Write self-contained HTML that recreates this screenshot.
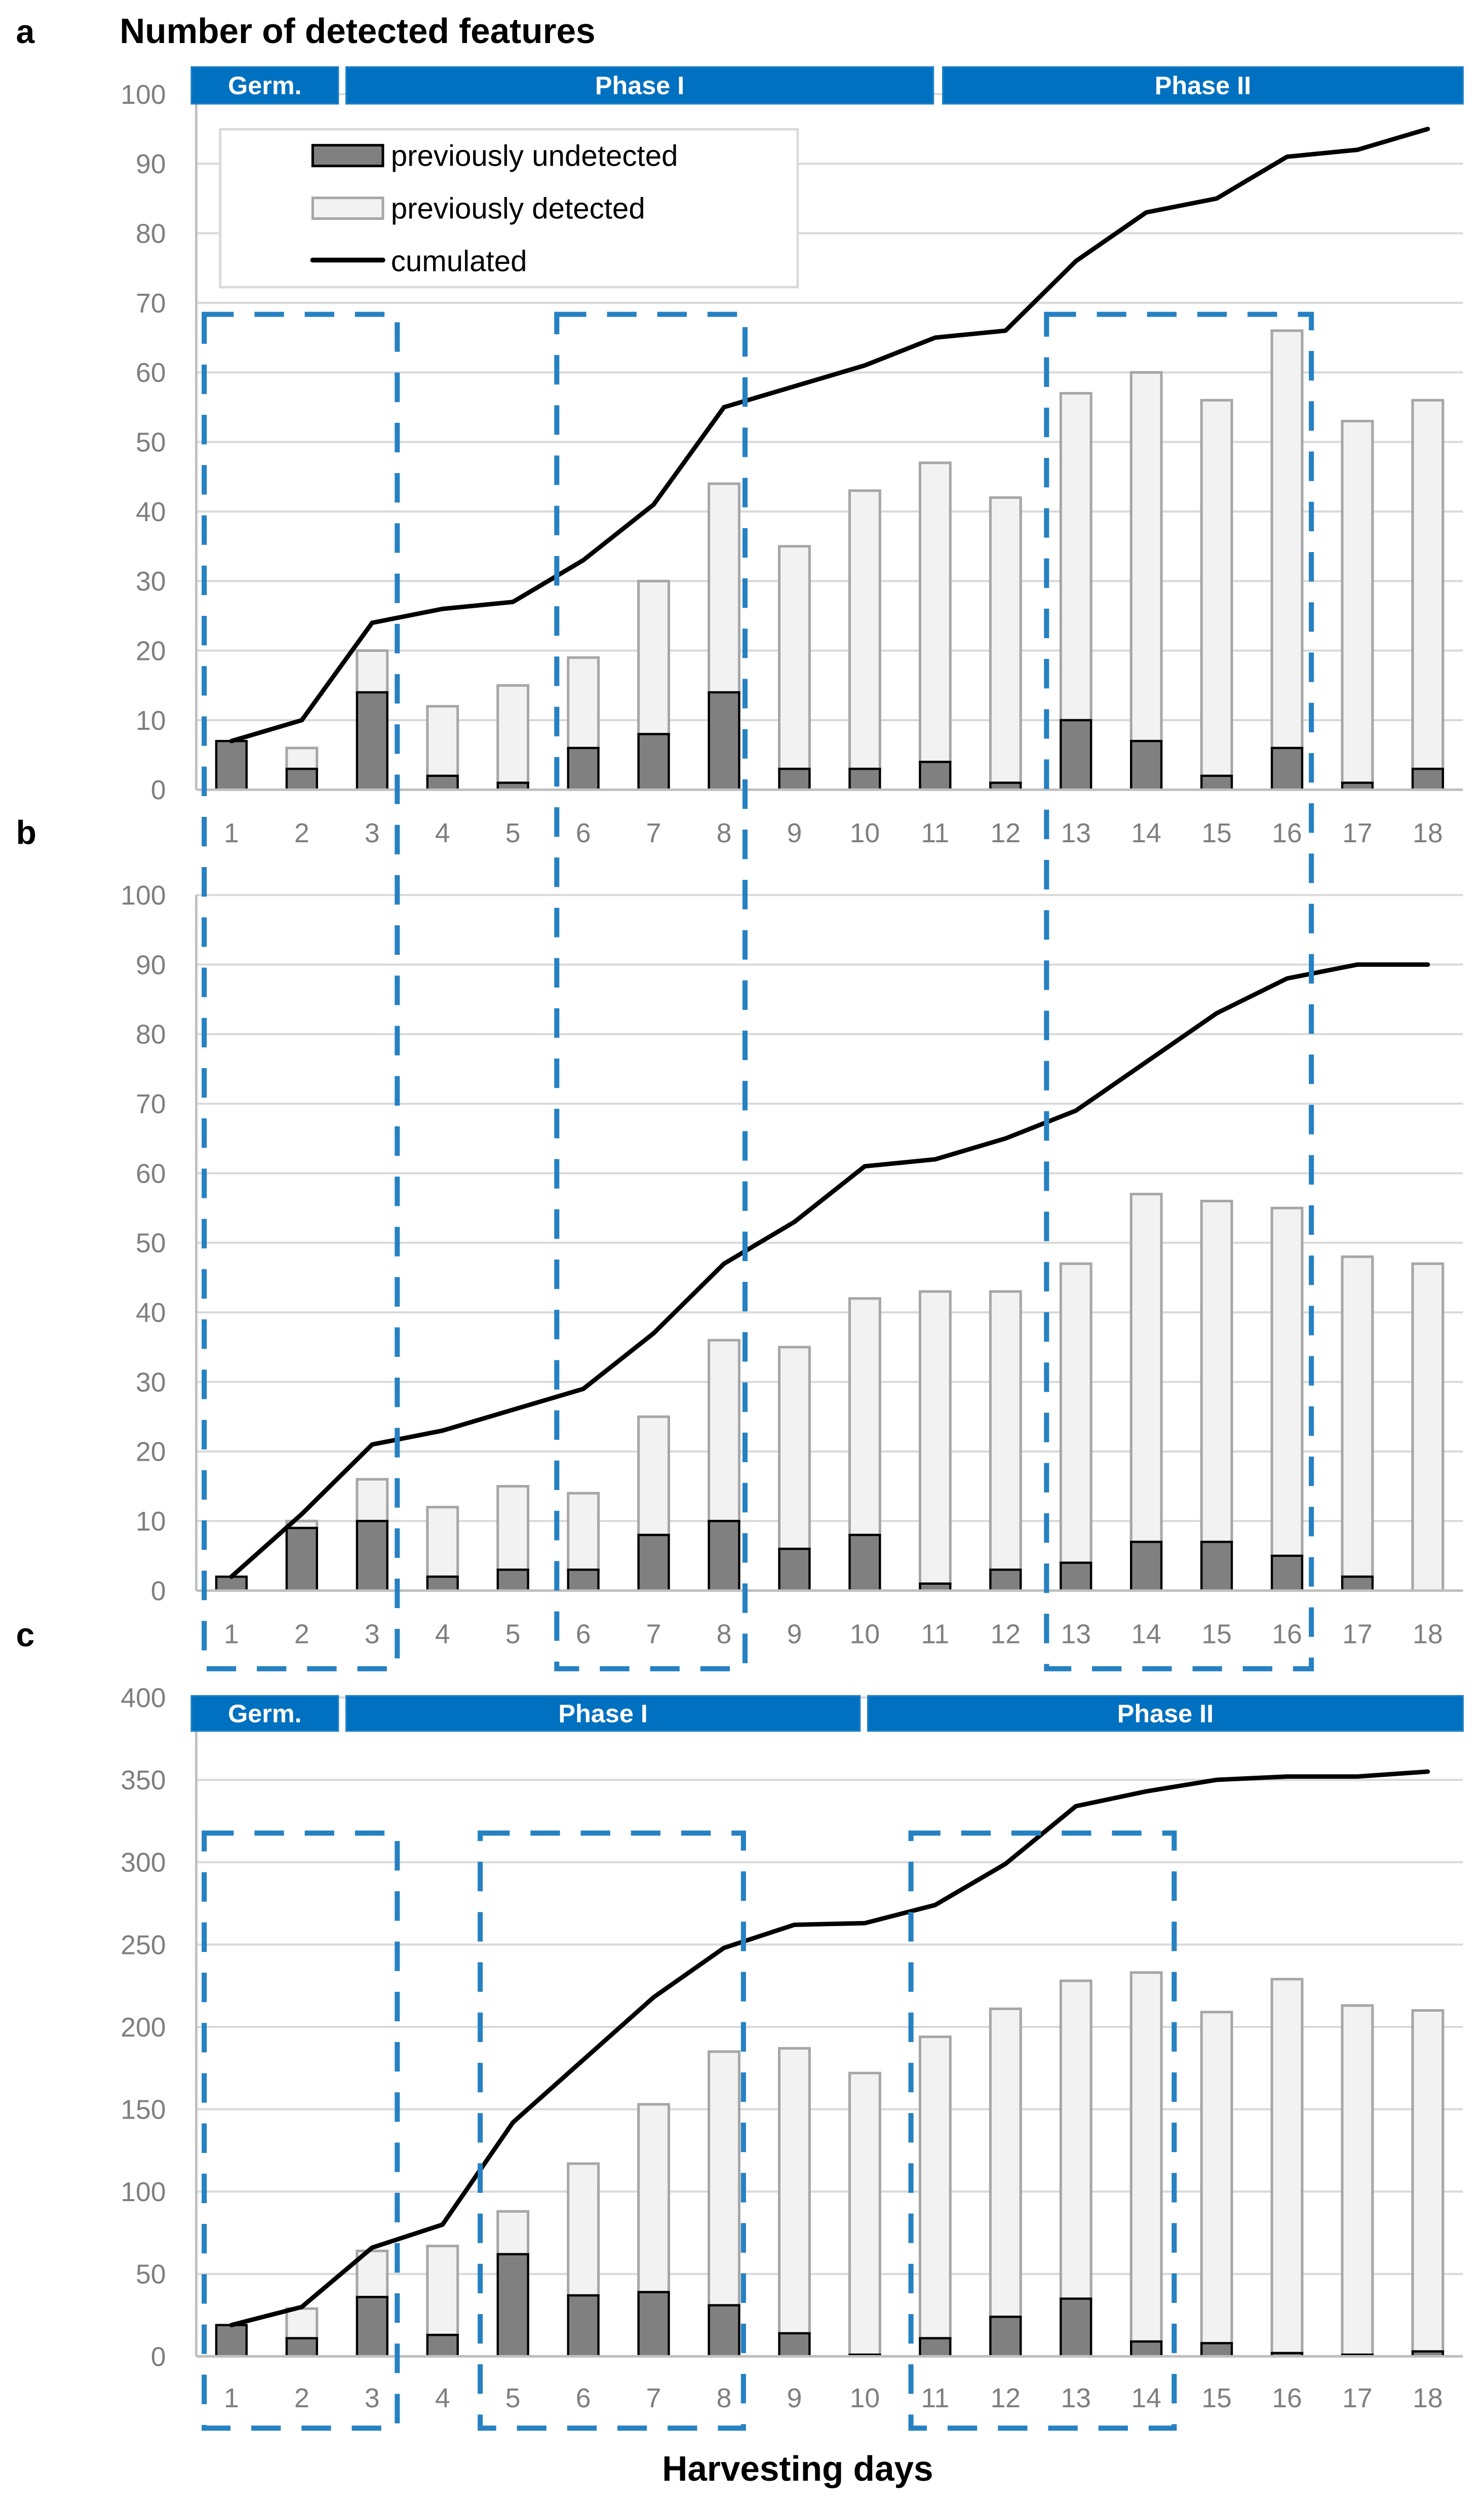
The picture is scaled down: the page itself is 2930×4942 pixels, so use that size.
<!DOCTYPE html>
<html><head><meta charset="utf-8"><style>
html,body{margin:0;padding:0;background:#fff;}
svg{display:block;}
text{font-family:"Liberation Sans",sans-serif;}
</style></head><body>
<svg id="fig" width="2930" height="4942" viewBox="0 0 930.2 1568.9" xmlns="http://www.w3.org/2000/svg"></svg>
<script>
const days = [1,2,3,4,5,6,7,8,9,10,11,12,13,14,15,16,17,18];
const undetA = [7,3,14,2,1,6,8,14,3,3,4,1,10,7,2,6,1,3];
const totalA = [7,6,20,12,15,19,30,44,35,43,47,42,57,60,56,66,53,56];
const cumA = [7,10,24,26,27,33,41,55,58,61,65,66,76,83,85,91,92,95];
const undetB = [2,9,10,2,3,3,8,10,6,8,1,3,4,7,7,5,2,0];
const totalB = [2,10,16,12,15,14,25,36,35,42,43,43,47,57,56,55,48,47];
const cumB = [2,11,21,23,26,29,37,47,53,61,62,65,69,76,83,88,90,90];
const undetC = [19,11,36,13,62,37,39,31,14,1,11,24,35,9,8,2,1,3];
const totalC = [19,29,64,67,88,117,153,185,187,172,194,211,228,233,209,229,213,210];
const cumC = [19,30,66,80,142,180,218,248,262,263,274,299,334,343,350,352,352,355];
const ticksAB = [0,10,20,30,40,50,60,70,80,90,100];
const ticksC = [0,50,100,150,200,250,300,350,400];

const NS = "http://www.w3.org/2000/svg";
const svg = document.getElementById('fig');
function mk(tag, attrs, parent, txt){
  const e = document.createElementNS(NS, tag);
  for (const k in attrs) e.setAttribute(k, attrs[k]);
  if (txt !== undefined) e.textContent = txt;
  (parent||svg).appendChild(e);
  return e;
}
const X0 = 123, X1 = 917;
const step = (X1 - X0) / days.length;
function xs(i){ return X0 + step * (i + 0.5); }

function panel(name, yTop, yBot, maxV, ticks, undet, total, cum, tickY){
  const g = mk('g', {});
  
  
  const ys = v => yBot - (v / maxV) * (yBot - yTop);
  ticks.forEach(t => {
    if (t > 0) {
      const l = mk('line', {x1:X0, x2:X1, y1:ys(t), y2:ys(t), stroke:'#d9d9d9', 'stroke-width':1.3}, g);
      
      
    }
    const tx = mk('text', {x:104, y:ys(t)+6, 'text-anchor':'end', 'font-size':17, fill:'#7f7f7f'}, g, t);
    
    
  });
  const ax = mk('line', {x1:X0, x2:X0, y1:yTop, y2:yBot, stroke:'#bfbfbf', 'stroke-width':1.5}, g);
  
  
  const bw = 19;
  days.forEach((d, i) => {
    const x = xs(i) - bw/2;
    if (total[i] > undet[i]) {
      const r = mk('rect', {x:x, y:ys(total[i]), width:bw, height:ys(undet[i]) - ys(total[i]), fill:'#f2f2f2', stroke:'#a6a6a6', 'stroke-width':1.6}, g);
      
      
    }
    if (undet[i] > 0) {
      const r = mk('rect', {x:x, y:ys(undet[i]), width:bw, height:yBot - ys(undet[i]), fill:'#808080', stroke:'#000', 'stroke-width':1.4}, g);
      
      
    }
    const tl = mk('text', {x:xs(i), y:tickY, 'text-anchor':'middle', 'font-size':17, fill:'#7f7f7f'}, g, d);
    
    
  });
  const bx = mk('line', {x1:X0, x2:X1, y1:yBot, y2:yBot, stroke:'#bfbfbf', 'stroke-width':1.6}, g);
  
  
  const pts = cum.map((v, i) => xs(i) + ',' + ys(v)).join(' ');
  const pl = mk('polyline', {points:pts, fill:'none', stroke:'#000', 'stroke-width':2.8, 'stroke-linejoin':'round', 'stroke-linecap':'round'}, g);
  
  
}

function phaseBar(name, x1, x2, y, h, label){
  const r = mk('rect', {x:x1, y:y, width:x2-x1, height:h, fill:'#0070c0', stroke:'#1f7fc4', 'stroke-width':1});
  
  
  const t = mk('text', {x:(x1+x2)/2, y:y+h/2+5.5, 'text-anchor':'middle', 'font-size':16, 'font-weight':'bold', fill:'#fff'}, svg, label);
  
  
}
function dashBox(name, x1, x2, y1, y2){
  const r = mk('rect', {x:x1, y:y1, width:x2-x1, height:y2-y1, fill:'none', stroke:'#2681c2', 'stroke-width':3.2, 'stroke-dasharray':'18.5 13'});
  
  
}
function label(name, x, y, size, txt, anchor){
  const t = mk('text', {x:x, y:y, 'font-size':size, 'font-weight':'bold', fill:'#000', 'text-anchor':anchor||'start'}, svg, txt);
  
  
}

panel('a', 59, 495, 100, ticksAB, undetA, totalA, cumA, 528);
panel('b', 561, 997, 100, ticksAB, undetB, totalB, cumB, 1030);
panel('c', 1064, 1477, 400, ticksC, undetC, totalC, cumC, 1509);

phaseBar('germ-a', 120, 212, 42, 23, 'Germ.');
phaseBar('phase1-a', 217, 585, 42, 23, 'Phase I');
phaseBar('phase2-a', 591, 917, 42, 23, 'Phase II');
phaseBar('germ-c', 120, 212, 1063, 22, 'Germ.');
phaseBar('phase1-c', 217, 539, 1063, 22, 'Phase I');
phaseBar('phase2-c', 544, 917, 1063, 22, 'Phase II');

const lg = mk('rect', {x:138, y:81, width:362, height:99, fill:'#fff', stroke:'#d9d9d9', 'stroke-width':1.5});


const s1 = mk('rect', {x:196, y:91, width:44, height:13, fill:'#808080', stroke:'#000', 'stroke-width':1.6});


const s2 = mk('rect', {x:196, y:124, width:44, height:13, fill:'#f2f2f2', stroke:'#a6a6a6', 'stroke-width':1.6});


const s3 = mk('line', {x1:196, x2:240, y1:163, y2:163, stroke:'#000', 'stroke-width':3, 'stroke-linecap':'round'});


[['previously undetected',104],['previously detected',137],['cumulated',170]].forEach(([t,y]) => {
  const e = mk('text', {x:245, y:y, 'font-size':18.5, fill:'#000'}, svg, t);
  
  
});

dashBox('highlight-box-days-1-3-ab', 128, 249, 197, 1046);
dashBox('highlight-box-days-6-8-ab', 349, 467, 197, 1046);
dashBox('highlight-box-days-13-16-ab', 656, 822, 197, 1046);
dashBox('highlight-box-days-1-3-c', 128, 249, 1149, 1522);
dashBox('highlight-box-days-5-8-c', 301, 466, 1149, 1522);
dashBox('highlight-box-days-11-14-c', 571, 736, 1149, 1522);

label('panel-label-a', 10, 27, 21, 'a');
label('panel-label-b', 10, 529, 21, 'b');
label('panel-label-c', 10, 1032, 21, 'c');
label('chart-title', 75, 27, 22, 'Number of detected features');
label('x-axis-title', 500, 1555, 22, 'Harvesting days', 'middle');
</script>
</body></html>
